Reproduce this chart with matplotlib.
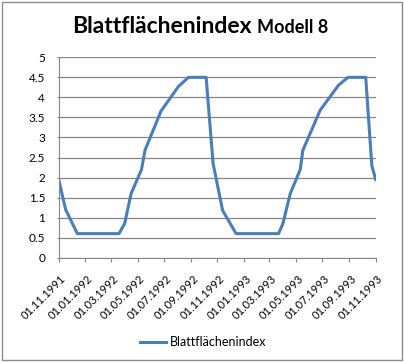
import numpy as np
import pandas as pd
import matplotlib
matplotlib.use("Agg")
import matplotlib.pyplot as plt
import matplotlib.dates as mdates
import matplotlib.transforms as mtransforms
from matplotlib.patches import Rectangle

# Blattflächenindex, Modell 8
dates = ["1991-11-01", "1991-11-17", "1991-12-14", "1992-03-19", "1992-04-01",
         "1992-04-16", "1992-05-10", "1992-05-18", "1992-06-24", "1992-08-03",
         "1992-08-26", "1992-10-06", "1992-10-22", "1992-11-13", "1992-12-14",
         "1993-03-22", "1993-04-01", "1993-04-18", "1993-05-11", "1993-05-17",
         "1993-06-26", "1993-08-07", "1993-08-29", "1993-10-09", "1993-10-23",
         "1993-11-01"]
lai = [1.95, 1.2, 0.6, 0.6, 0.85,
       1.6, 2.2, 2.68, 3.66, 4.27,
       4.5, 4.5, 2.35, 1.18, 0.6,
       0.6, 0.85, 1.6, 2.2, 2.68,
       3.68, 4.3, 4.5, 4.5, 2.3,
       1.95]
tick_dates = pd.date_range("1991-11-01", "1993-11-01", freq="2MS")
yticks = [0, 0.5, 1, 1.5, 2, 2.5, 3, 3.5, 4, 4.5, 5]

plt.rcParams['font.family'] = ['Lato', 'DejaVu Sans']

fig = plt.figure(figsize=(4.04, 3.63), dpi=100)
fig.patches.append(Rectangle((1.7/404, 3/363), 400/404, 358.3/363, transform=fig.transFigure,
                             fill=False, edgecolor="#8c8c8c", linewidth=1))

ax = fig.add_axes([58.7/404, 1 - 257.7/363, 317/404, 200.4/363])
x = pd.to_datetime(dates)
ax.plot(x, lai, color="#4a7ebb", linewidth=2.2, solid_joinstyle="round",
        label="Blattflächenindex")

ax.set_ylim(0, 5)
ax.set_yticks(yticks)
ax.set_yticklabels([("%g" % v) for v in yticks])
ax.set_xlim(tick_dates[0], tick_dates[-1])
ax.set_xticks(tick_dates)
ax.xaxis.set_major_formatter(mdates.DateFormatter("%d.%m.%Y"))
ax.grid(axis="y", color="#878787", linewidth=0.9)
ax.set_axisbelow(True)
for s in ["top", "right"]:
    ax.spines[s].set_visible(False)
for s in ["left", "bottom"]:
    ax.spines[s].set_color("#878787")
ax.tick_params(axis="x", length=2.9, color="#878787", labelsize=8, pad=8.3)
ax.tick_params(axis="y", length=1.8, color="#878787", labelsize=8.5, pad=8)
shift = mtransforms.ScaledTranslation(1.5/100, 0, fig.dpi_scale_trans)
for lab in ax.get_xticklabels():
    lab.set_rotation(45)
    lab.set_ha("right")
    lab.set_va("top")
    lab.set_rotation_mode("anchor")
    lab.set_transform(lab.get_transform() + shift)

ax.legend(loc="center", bbox_to_anchor=(203/404, 1 - 342/363), bbox_transform=fig.transFigure,
          frameon=False, fontsize=9, handlelength=2.1, handletextpad=0.3)

# title in two parts
t1 = fig.text(0, 1 - 33.3/363, "Blattflächenindex", fontsize=16.5, fontweight="bold",
              ha="left", va="baseline")
t2 = fig.text(0, 1 - 33.3/363, "Modell 8", fontsize=13, fontweight="bold",
              ha="left", va="baseline")
fig.canvas.draw()
r = fig.canvas.get_renderer()
w1 = t1.get_window_extent(r).width
w2 = t2.get_window_extent(r).width
gap = 5
x0 = 200.5 - (w1 + gap + w2) / 2
t1.set_x(x0 / 404)
t2.set_x((x0 + w1 + gap) / 404)

fig.savefig("out.png", dpi=100)
